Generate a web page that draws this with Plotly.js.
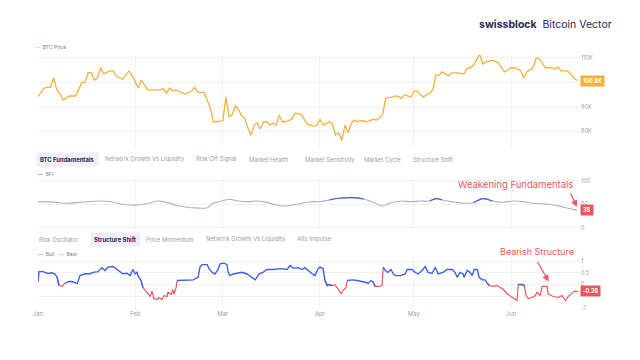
<!DOCTYPE html>
<html>
<head>
<meta charset="utf-8">
<script src="https://cdn.plot.ly/plotly-3.0.1.min.js"></script>
<style>html,body{margin:0;padding:0;background:#fff;}#chart{width:640px;height:360px;}</style>
</head>
<body>
<div id="chart"></div>
<script>
// ---- Data (x = days since 2025-01-01) ----
const priceDays = [0,2,3,4,5,6,7,8,10,12,14,15,16,17,18,19,20,21,23,24,25,26,27,29,30,32,33,35,37,39,40,41,42,43,44,46,47,49,50,51,53,54,55,56,57,59,60,61,62,63,64,65,66,67,68,69,70,71,72,73,74,75,76,77,78,79,81,82,84,86,88,89,90,91,93,94,95,96,97,98,99,100,101,102,103,105,106,107,108,109,110,111,113,114,115,116,117,118,119,120,121,123,124,125,126,127,128,129,130,131,132,134,136,137,138,139,141,142,143,145,146,147,148,149,151,152,154,155,156,158,159,160,162,164,165,166,167,169,170,171,172];
const priceK = [94.2,97.7,98,98,101.8,97,95.5,92.8,94.5,94.5,100,100,104,104,101,101.8,106,103.5,104.7,104.7,102.5,101.8,101.3,104.7,103,97.7,101,97,97,97,97.5,95.7,97.7,96.5,97,95.7,95.3,96.5,98,96,96,92.8,89.6,84,84,84.5,94,86,87,90.4,89,86.3,85.5,81.4,78.5,82.6,83.5,81,84,84,82.6,83.5,82.6,86.7,84,84,85,87.5,87,83,82.2,82.5,85,82.6,84,83,78.6,79.5,76.5,82.6,79.4,83.5,84.7,84,84.5,84,84.5,85,84.7,85.5,87,93.7,94,94.5,94.2,93.5,95,94.5,94,96.5,96.5,94,95,95.5,97,103,103,104.3,103.5,102.7,103.9,103.9,103.5,105.9,106,107,111.6,107.5,108.4,109,108.5,108,106,104.3,106,106,105,101.8,104.3,106,110,109.6,106,106,105.5,106.3,104.7,104.7,103.5,101.8,100.8];

const bfiDays = [0,4,9,14,20,23,27,32,36,38,41,45,49,54,56,58,61,64,67,70,73,76,79,83,86,89,90,93,96,101,104,107,110,112,116,119,122,125,127,129,132,136,139,142,145,148,152,155,158,163,166,169,171,172];
const bfi = [56,55.5,52.6,55,57.4,56.5,50.4,49,53.8,57.4,54.5,46.8,43.2,43.2,52.6,56,61,57.5,56,57.4,54.5,49,46.8,51,54.7,56,56,59.6,63.2,64.5,61.7,54.7,46.8,52.6,57.4,56,57.4,57.4,62.5,59.6,56,52.6,53.8,62.5,57.4,54.7,57.4,56,52.6,50.4,47,42,39,38];

const ssDays = [0,0.3,1.6,3.2,4.5,5.4,6.1,6.7,7.7,8.6,10.2,11.5,12.5,13.4,15,16.6,17.6,19.2,20.4,21.4,22.3,23.9,25.2,25.9,27.1,28.4,29.4,30.3,31,31.6,31.9,32.9,33.5,34.8,35.8,36.4,37,38,38.6,39.6,40.2,41.2,41.5,42.5,43.1,43.4,44.1,44.4,46,47.6,49.5,51.1,51.7,52.4,54,54.6,55.6,56.5,57.5,58.1,59.4,60.3,60.7,61.3,62.3,63.5,65.1,66.7,68,69.3,70.6,71.8,73.1,75,77.3,79.5,80.5,81.4,83,84.3,85.2,86.2,87.5,88.4,89.4,90,91,91.6,92.3,92.6,93.9,94.8,95.8,96.7,97.4,98.3,98.7,100.3,101.9,103.4,104.4,105.4,106.3,107,107.6,108.9,109.8,110.2,110.8,111.7,112.7,113.3,114,115.6,117.2,117.8,119.4,120.4,121.3,122.6,123.6,124.5,125.8,126.8,127.7,129.3,130.6,132.2,133.1,133.8,134.7,135.7,136,137,137.9,138.6,139.2,140.2,140.8,141.8,142.7,143.4,144,145.3,146.6,147.5,148.5,149.7,151,152,152.9,153.3,154.5,155.2,155.8,156.5,157.7,158.7,159.3,160.3,160.9,162.5,162.8,164.4,166,167.3,168.3,169.2,170.2,171.2,172.1,172.4];
const ss = [0.1,0.55,0.55,0.47,0.5,0.45,0.31,-0.04,-0.08,0.06,0.14,0.1,0.04,0.38,0.46,0.46,0.52,0.55,0.72,0.6,0.74,0.77,0.65,0.57,0.46,0.48,0.38,0.64,0.45,0.52,0.38,0.17,-0.13,-0.33,-0.51,-0.28,-0.6,-0.64,-0.55,-0.64,-0.47,-0.51,-0.33,-0.42,-0.21,-0.42,-0.11,0.17,0.17,0.2,0.2,0.31,0.74,0.85,0.85,0.68,0.52,0.45,0.64,0.88,0.91,0.85,0.52,0.38,0.45,0.48,0.52,0.45,0.31,0.2,0.46,0.52,0.64,0.64,0.68,0.64,0.81,0.7,0.72,0.64,0.72,0.6,0.46,0.38,0.68,0.74,0.68,0.17,-0.04,0.0,-0.04,-0.02,-0.18,-0.39,-0.25,-0.13,0.17,0.2,0.17,0.14,0.1,0.06,0.17,0.1,-0.08,-0.08,-0.04,0.74,0.6,0.52,0.64,0.48,0.38,0.38,0.45,0.64,0.64,0.52,0.45,0.6,0.77,0.52,0.48,0.74,0.45,0.52,0.64,0.64,0.52,0.31,0.52,0.45,0.31,0.6,0.52,0.38,0.64,0.64,0.31,0.2,0.2,0.06,-0.04,-0.08,-0.04,-0.13,-0.2,-0.39,-0.51,-0.6,-0.68,0.0,0.0,-0.04,-0.47,-0.6,-0.55,-0.47,-0.33,-0.47,-0.08,-0.08,-0.39,-0.51,-0.55,-0.47,-0.68,-0.51,-0.39,-0.28,-0.3,-0.28];

const monthTicks = ['2025-01-01','2025-02-01','2025-03-01','2025-04-01','2025-05-01','2025-06-01'];
const monthLabels = ['Jan','Feb','Mar','Apr','May','Jun'];
const priceTicks = [80,90,100,110];
const priceTickText = ['80K','90K','','110K'];
const bfiTicks = [0,50,100];
const ssTicks = [-1,-0.5,0,0.5,1];
const ssTickText = ['-1','','0','0.5','1'];
const tabs1 = ['BTC Fundamentals','Network Growth Vs Liquidity','Risk Off Signal','Market Health','Market Sensitivity','Market Cycle','Structure Shift'];
const tabs2 = ['Risk Oscillator','Structure Shift','Price Momentum','Network Growth Vs Liquidity','Alts Impulse'];

// ---- helpers ----
const toDate = d => new Date(Date.UTC(2025,0,1) + d*86400000).toISOString().replace('T',' ').slice(0,19);
const priceX = priceDays.map(toDate), bfiX = bfiDays.map(toDate), ssX = ssDays.map(toDate);

const ORANGE = '#f2b03d', BLUE = '#3f5fe6', RED = '#e8585b', GREYLINE = '#aeb0cb', TXT = '#9b9db0', NAVY = '#252858';
const FONT = 'Inter, "Noto Sans", sans-serif';
const HI = 62;

const bull = ss.map((v,i)=> (v>=0 || (i>0 && ss[i-1]>=0) || (i<ss.length-1 && ss[i+1]>=0 && v>=0)) ? v : null);
const bear = ss.map((v,i)=> (v<0 || (i>0 && ss[i-1]<0) || (i<ss.length-1 && ss[i+1]<0)) ? v : null);
const bfiHi = bfi.map((v,i)=> (v>=HI || (i>0 && bfi[i-1]>=HI) || (i<bfi.length-1 && bfi[i+1]>=HI)) ? v : null);

const traces = [
  {x: priceX, y: priceK, xaxis:'x2', yaxis:'y', mode:'lines', name:'BTC Price', line:{color:ORANGE, width:1.3}, showlegend:false},
  {x: bfiX, y: bfi, xaxis:'x3', yaxis:'y2', mode:'lines', name:'BFI', line:{color:GREYLINE, width:1.1, shape:'spline'}, showlegend:false},
  {x: bfiX, y: bfiHi, xaxis:'x3', yaxis:'y2', mode:'lines', name:'BFI high', line:{color:BLUE, width:1.1, shape:'spline'}, showlegend:false, connectgaps:false},
  {x: ssX, y: bear, xaxis:'x', yaxis:'y3', mode:'lines', name:'Bear', line:{color:RED, width:1.2}, showlegend:false, connectgaps:false},
  {x: ssX, y: bull, xaxis:'x', yaxis:'y3', mode:'lines', name:'Bull', line:{color:BLUE, width:1.4}, showlegend:false, connectgaps:false}
];

const gridC = '#f1f1f4';
const xBase = {range:['2025-01-01','2025-06-23'], type:'date', tickvals:monthTicks, showgrid:true, gridcolor:gridC, gridwidth:1, zeroline:false, showline:false, ticks:''};
const yBase = {side:'right', showgrid:true, gridcolor:gridC, zeroline:false, showline:false, ticks:'', tickfont:{size:5.5, color:TXT, family:FONT}};

const annotations = [];
const px = x => (x-38)/542, py = y => 1-y/360;
// title
annotations.push({xref:'paper', yref:'paper', x:px(614), y:py(25), xanchor:'right', yanchor:'middle', showarrow:false,
  text:'<b>swissblock</b>  Bitcoin Vector', font:{size:10.5, color:NAVY, family:FONT}});
// legends
annotations.push({xref:'paper', yref:'paper', x:px(33), y:py(47), xanchor:'left', yanchor:'middle', showarrow:false,
  text:'<span style="color:'+ORANGE+'">—</span>  BTC Price', font:{size:5, color:'#7d8096', family:FONT}});
annotations.push({xref:'paper', yref:'paper', x:px(36), y:py(174), xanchor:'left', yanchor:'middle', showarrow:false,
  text:'<span style="color:#555a88">—</span>  BFI', font:{size:5, color:'#7d8096', family:FONT}});
annotations.push({xref:'paper', yref:'paper', x:px(36), y:py(254), xanchor:'left', yanchor:'middle', showarrow:false,
  text:'<span style="color:'+BLUE+'">—</span>  Bull   <span style="color:'+RED+'">—</span>  Bear', font:{size:5, color:'#7d8096', family:FONT}});
// tabs
const tab1X = [36,104,195,248,304,363,412];
tabs1.forEach((t,i)=>{
  const sel = i===0;
  annotations.push({xref:'paper', yref:'paper', x:px(tab1X[i]), y:py(159), xanchor:'left', yanchor:'middle', showarrow:false,
    text: sel ? '<b>'+t+'</b>' : t, font:{size:5.9, color: sel?NAVY:TXT, family:FONT},
    bgcolor: sel?'#eef0f6':'rgba(0,0,0,0)', borderpad: sel?3:0});
});
const tab2X = [38,90,145,205,296];
tabs2.forEach((t,i)=>{
  const sel = i===1;
  annotations.push({xref:'paper', yref:'paper', x:px(tab2X[i]), y:py(239), xanchor:'left', yanchor:'middle', showarrow:false,
    text: sel ? '<b>'+t+'</b>' : t, font:{size:5.9, color: sel?NAVY:TXT, family:FONT},
    bgcolor: sel?'#eef0f6':'rgba(0,0,0,0)', borderpad: sel?3:0});
});
// last value boxes
const lastP = priceK[priceK.length-1], lastB = bfi[bfi.length-1], lastS = ss[ss.length-1];
annotations.push({xref:'paper', yref:'y', x:1.0, y:lastP, xanchor:'left', yanchor:'middle', showarrow:false,
  text:'<b>'+lastP.toFixed(1)+'K</b>', font:{size:5.5, color:'#fff', family:FONT}, bgcolor:ORANGE, borderpad:2});
annotations.push({xref:'paper', yref:'y2', x:1.0, y:lastB, xanchor:'left', yanchor:'middle', showarrow:false,
  text:'<b>'+Math.round(lastB)+'</b>', font:{size:5.5, color:'#fff', family:FONT}, bgcolor:RED, borderpad:2});
annotations.push({xref:'paper', yref:'y3', x:1.0, y:lastS, xanchor:'left', yanchor:'middle', showarrow:false,
  text:'<b>'+lastS.toFixed(2)+'</b>', font:{size:5.5, color:'#fff', family:FONT}, bgcolor:RED, borderpad:2});
// callouts
annotations.push({xref:'paper', yref:'paper', x:px(575), y:py(184), xanchor:'right', yanchor:'middle', showarrow:false,
  text:'Weakening Fundamentals', font:{size:9.5, color:RED, family:FONT}});
annotations.push({xref:'x3', yref:'y2', x:toDate(172), y:45, ax:-7, ay:-15, text:'', showarrow:true, arrowhead:2, arrowsize:1, arrowwidth:1.3, arrowcolor:RED});
annotations.push({xref:'paper', yref:'paper', x:px(537), y:py(252), xanchor:'center', yanchor:'middle', showarrow:false,
  text:'Bearish Structure', font:{size:9, color:RED, family:FONT}});
annotations.push({xref:'x', yref:'y3', x:toDate(163), y:0.13, ax:-12, ay:-21, text:'', showarrow:true, arrowhead:2, arrowsize:1, arrowwidth:1.3, arrowcolor:RED});

const layout = {
  width:640, height:360, margin:{l:38, r:60, t:0, b:0},
  paper_bgcolor:'#fff', plot_bgcolor:'#fff', showlegend:false,
  font:{family:FONT},
  xaxis: Object.assign({}, xBase, {anchor:'y3', ticktext:monthLabels, tickfont:{size:6, color:TXT, family:FONT}}),
  xaxis2: Object.assign({}, xBase, {anchor:'y', matches:'x', showticklabels:false}),
  xaxis3: Object.assign({}, xBase, {anchor:'y2', matches:'x', showticklabels:false}),
  yaxis: Object.assign({}, yBase, {domain:[0.5889,0.8472], anchor:'x2', range:[73.3,111.2], tickvals:priceTicks, ticktext:priceTickText}),
  yaxis2: Object.assign({}, yBase, {domain:[0.3611,0.5056], anchor:'x3', range:[-4.3,106.4], tickvals:bfiTicks}),
  yaxis3: Object.assign({}, yBase, {domain:[0.1417,0.2833], anchor:'x', range:[-1.04,1.13], tickvals:ssTicks, ticktext:ssTickText}),
  annotations: annotations
};

Plotly.newPlot('chart', traces, layout, {displayModeBar:false, staticPlot:true});
</script>
</body>
</html>
